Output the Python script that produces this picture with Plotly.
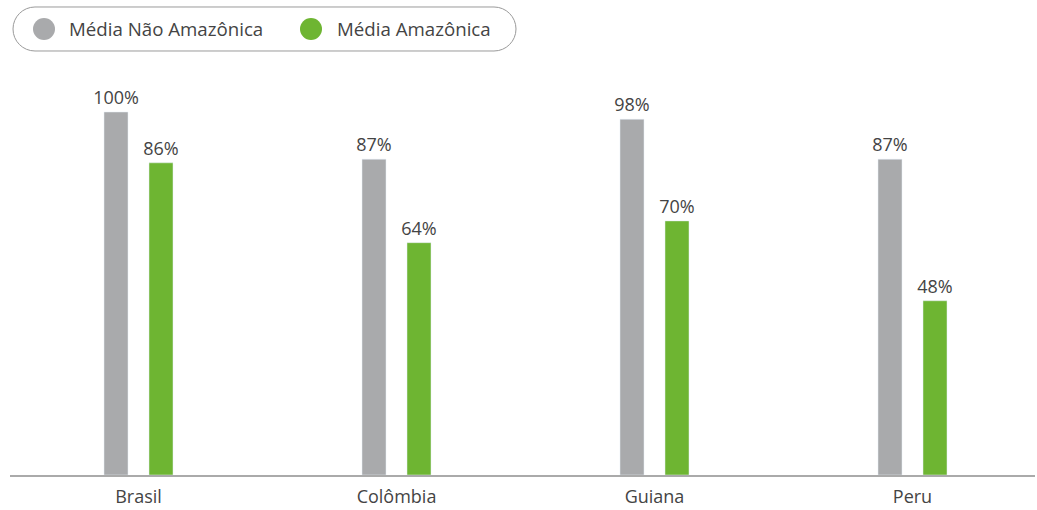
import plotly.graph_objects as go

categories = ["Brasil", "Colômbia", "Guiana", "Peru"]
nao_amazonica = [100, 87, 98, 87]
amazonica = [86, 64, 70, 48]
series_names = ["Média Não Amazônica", "Média Amazônica"]
colors = ["#A9AAAC", "#6EB532"]

W, H = 1037, 510
ML, MR, MT, MB = 10, 2, 60, 35
PW, PH = W - ML - MR, H - MT - MB
UNIT = 258.0  # px per category
FS = 18

def px(x):
    return (x - ML) / PW

def py(y):
    return (H - MB - y) / PH

bar_w = 24 / UNIT
off = 22.5 / UNIT

fig = go.Figure()
for vals, name, col, o in [(nao_amazonica, series_names[0], colors[0], -off),
                           (amazonica, series_names[1], colors[1], off)]:
    fig.add_trace(go.Bar(
        x=categories, y=vals, name=name, marker_color=col,
        width=bar_w, offset=o - bar_w / 2,
        text=[f"{v}%" for v in vals], textposition="outside",
        constraintext="none",
        textfont=dict(size=FS, color="#444444"), cliponaxis=False,
        showlegend=False,
    ))

# pill-shaped legend box
x0, x1, y0, y1, r = 13, 516, 7, 51, 22
k = 0.5523 * r
pts = [
    ("M", [(x0 + r, y0)]),
    ("L", [(x1 - r, y0)]),
    ("C", [(x1 - r + k, y0), (x1, y0 + r - k), (x1, y0 + r)]),
    ("C", [(x1, y0 + r + k), (x1 - r + k, y1), (x1 - r, y1)]),
    ("L", [(x0 + r, y1)]),
    ("C", [(x0 + r - k, y1), (x0, y0 + r + k), (x0, y0 + r)]),
    ("C", [(x0, y0 + r - k), (x0 + r - k, y0), (x0 + r, y0)]),
]
path = ""
for cmd, ps in pts:
    path += cmd + " " + " ".join(f"{px(a):.6f},{py(b):.6f}" for a, b in ps) + " "
path += "Z"
fig.add_shape(type="path", path=path, xref="paper", yref="paper",
              line=dict(color="#9A9A9A", width=1), fillcolor="rgba(0,0,0,0)")

for cx, tx, name, col in [(44, 67, series_names[0], colors[0]),
                          (311, 335, series_names[1], colors[1])]:
    rr = 11
    fig.add_shape(type="circle", xref="paper", yref="paper",
                  x0=px(cx - rr), x1=px(cx + rr), y0=py(29 + rr), y1=py(29 - rr),
                  fillcolor=col, line=dict(width=0))
    fig.add_annotation(x=px(tx), y=py(28), xref="paper", yref="paper",
                       text=name, showarrow=False, xanchor="left", yanchor="middle",
                       font=dict(size=18.7, color="#444444"))

xmin = -128.5 / UNIT
fig.update_layout(
    width=W, height=H,
    margin=dict(l=ML, r=MR, t=MT, b=MB),
    paper_bgcolor="white", plot_bgcolor="white",
    font=dict(family="Open Sans", size=FS, color="#444444"),
    barmode="overlay",
    xaxis=dict(range=[xmin, xmin + PW / UNIT], showgrid=False, showline=True,
               linecolor="#AAAAAA", linewidth=2, ticks="",
               ticklabelstandoff=4,
               tickfont=dict(size=FS, color="#444444"), fixedrange=True),
    yaxis=dict(range=[0, PH / 3.63], visible=False, fixedrange=True),
)

fig.write_html("out.html")
